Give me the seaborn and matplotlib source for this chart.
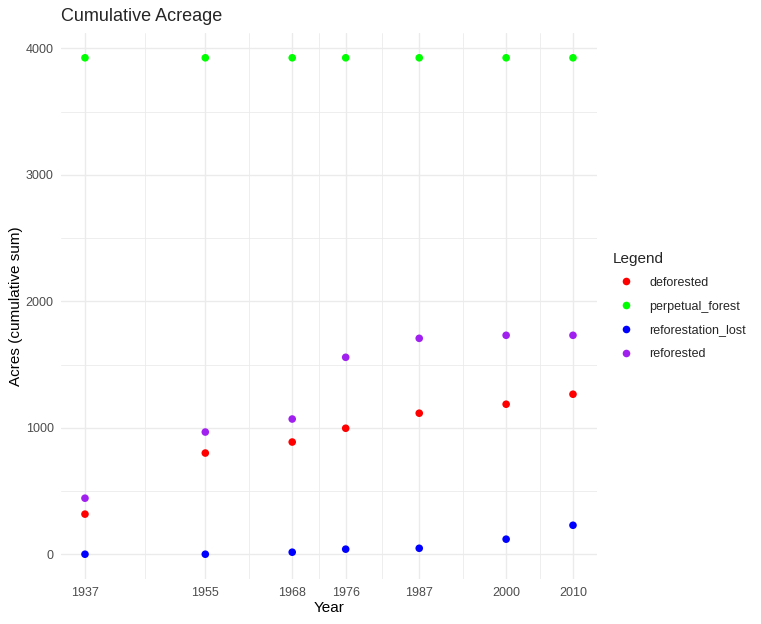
import numpy as np
import pandas as pd
import seaborn as sns
import matplotlib.pyplot as plt
from matplotlib.ticker import FixedLocator

# values
years = [1937, 1955, 1968, 1976, 1987, 2000, 2010]
categories = ['deforested', 'perpetual_forest', 'reforestation_lost', 'reforested']
deforested = [317, 800, 887, 996, 1115, 1186, 1265]
perpetual_forest = [3925, 3925, 3925, 3925, 3925, 3925, 3925]
reforestation_lost = [0, 0, 16, 40, 47, 119, 229]
reforested = [443, 966, 1069, 1557, 1707, 1731, 1731]
colors = ['#FF0000', '#00FF00', '#0000FF', '#A020F0']

series = [deforested, perpetual_forest, reforestation_lost, reforested]
df = pd.DataFrame({
    'Year': years * len(categories),
    'Acres': sum(series, []),
    'Legend': [c for c in categories for _ in years],
})

sns.set_theme(style='white')
plt.rcParams['font.family'] = ['Liberation Sans', 'DejaVu Sans']

fig = plt.figure(figsize=(7.61, 6.24), dpi=100)
ax = fig.add_axes([0.0796, 0.0721, 0.7054, 0.8750])

sns.scatterplot(data=df, x='Year', y='Acres', hue='Legend', hue_order=categories,
                palette=dict(zip(categories, colors)), s=30, linewidth=0, ax=ax,
                zorder=3)

# ggplot-like minimal theme
grid_col = '#EBEBEB'
ax.set_xlim(1937 - 3.65, 2010 + 3.65)
ax.set_ylim(-196, 3925 + 196)
ax.xaxis.set_major_locator(FixedLocator(years))
mids = [(a + b) / 2 for a, b in zip(years[:-1], years[1:])]
ax.xaxis.set_minor_locator(FixedLocator(mids))
ax.yaxis.set_major_locator(FixedLocator([0, 1000, 2000, 3000, 4000]))
ax.yaxis.set_minor_locator(FixedLocator([500, 1500, 2500, 3500]))
ax.grid(True, which='major', color=grid_col, linewidth=1.0)
ax.grid(True, which='minor', color=grid_col, linewidth=0.6)
ax.set_axisbelow(True)
for sp in ax.spines.values():
    sp.set_visible(False)
ax.tick_params(which='both', length=0, labelsize=9, labelcolor='#4D4D4D')
ax.tick_params(axis='x', pad=6)
ax.tick_params(axis='y', pad=5)

ax.set_xlabel('Year', fontsize=11, color='black', labelpad=1)
ax.set_ylabel('Acres (cumulative sum)', fontsize=11, color='black', labelpad=2)
ax.set_title('Cumulative Acreage', fontsize=13, loc='left', x=0.0, pad=9)

leg = ax.legend(title='Legend', loc='center left', bbox_to_anchor=(1.02, 0.5),
                frameon=False, fontsize=9, title_fontsize=11, markerscale=1.0,
                handletextpad=0.9, labelspacing=0.95, borderaxespad=0)
leg._legend_box.align = 'left'
leg._legend_box.sep = 8

fig.savefig('out.png', dpi=100)
